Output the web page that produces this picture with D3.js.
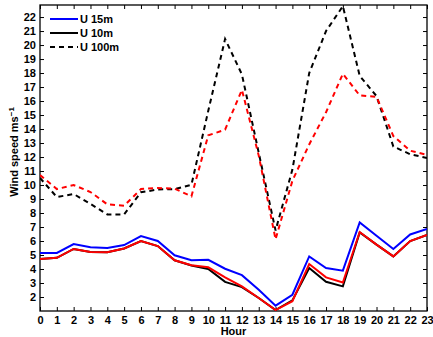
<!DOCTYPE html>
<html>
<head>
<meta charset="utf-8">
<script src="https://cdn.jsdelivr.net/npm/d3@7"></script>
<style>
  body { margin: 0; background: #fff; }
  svg { font-family: "Liberation Sans", Arial, sans-serif; font-weight: bold; }
</style>
</head>
<body>
<script>
// hours and tick labels
var hours = d3.range(0, 24);
var yTicks = d3.range(2, 23);

// wind speed series
var u15 = [5.15, 5.15, 5.78, 5.55, 5.5, 5.71, 6.35, 6.0, 4.98, 4.62, 4.66, 4.02, 3.56, 2.52, 1.38, 2.16, 4.9, 4.07, 3.88, 7.33, 6.38, 5.43, 6.47, 6.86];
var u10 = [4.72, 4.8, 5.43, 5.22, 5.2, 5.47, 6.0, 5.64, 4.62, 4.25, 4.0, 3.08, 2.71, 1.93, 1.07, 1.76, 4.07, 3.09, 2.76, 6.62, 5.74, 4.9, 6.0, 6.43];
var uRed = [4.72, 4.8, 5.43, 5.22, 5.2, 5.47, 6.0, 5.64, 4.62, 4.27, 4.12, 3.4, 2.76, 1.93, 1.07, 1.7, 4.36, 3.4, 3.04, 6.64, 5.74, 4.9, 6.0, 6.43];
var u100 = [10.5, 9.14, 9.36, 8.65, 7.9, 7.9, 9.48, 9.68, 9.71, 10.02, 15.3, 20.43, 17.9, 12.3, 6.75, 11.1, 18.0, 21.0, 22.78, 17.8, 16.35, 12.75, 12.2, 11.93];
var u100Red = [10.71, 9.71, 10.0, 9.5, 8.62, 8.52, 9.71, 9.79, 9.74, 9.19, 13.55, 13.95, 16.8, 12.1, 6.12, 10.3, 12.9, 15.2, 17.95, 16.4, 16.3, 13.5, 12.45, 12.15];

var legendNames = ["U 15m", "U 10m", "U 100m"];

var w = 433, h = 337;
var mLeft = 40, mRight = 427, mTop = 5, mBottom = 311;

var svg = d3.select("body").append("svg")
  .attr("width", w)
  .attr("height", h);

var x = d3.scaleLinear().domain([0, 23]).range([mLeft, mRight]);
var y = d3.scaleLinear().domain([1, 22.86]).range([mBottom, mTop]);

// axes, ticks pointing inwards on all four sides
svg.append("g")
  .attr("transform", "translate(0," + mBottom + ")")
  .call(d3.axisBottom(x).tickValues(hours).tickSize(-4).tickPadding(5).tickFormat(d3.format("d")));
svg.append("g")
  .attr("transform", "translate(0," + mTop + ")")
  .call(d3.axisTop(x).tickValues(hours).tickSize(-4).tickFormat(""));
svg.append("g")
  .attr("transform", "translate(" + mLeft + ",0)")
  .call(d3.axisLeft(y).tickValues(yTicks).tickSize(-4).tickPadding(4).tickFormat(d3.format("d")));
svg.append("g")
  .attr("transform", "translate(" + mRight + ",0)")
  .call(d3.axisRight(y).tickValues(yTicks).tickSize(-4).tickFormat(""));

svg.selectAll(".domain").remove();
svg.selectAll(".tick line").attr("stroke", "#000");
svg.selectAll(".tick text")
  .attr("font-size", 11)
  .attr("font-weight", "bold")
  .attr("font-family", "Liberation Sans, Arial, sans-serif")
  .attr("fill", "#000");

svg.append("rect")
  .attr("x", mLeft).attr("y", mTop)
  .attr("width", mRight - mLeft).attr("height", mBottom - mTop)
  .attr("fill", "none").attr("stroke", "#000").attr("stroke-width", 1.3);

var line = d3.line()
  .x((d, i) => x(hours[i]))
  .y((d) => y(d));

var series = [
  { data: u100, color: "#000", dash: "5,4" },
  { data: u100Red, color: "#ff0000", dash: "5,4" },
  { data: u15, color: "#0000ff", dash: null },
  { data: u10, color: "#000", dash: null },
  { data: uRed, color: "#ff0000", dash: null }
];

svg.append("defs").append("clipPath").attr("id", "clip")
  .append("rect").attr("x", mLeft).attr("y", mTop)
  .attr("width", mRight - mLeft).attr("height", mBottom - mTop);

svg.append("g").attr("clip-path", "url(#clip)")
  .selectAll("path")
  .data(series)
  .enter()
  .append("path")
  .attr("d", (d) => line(d.data))
  .attr("fill", "none")
  .attr("stroke", (d) => d.color)
  .attr("stroke-width", 2)
  .attr("stroke-dasharray", (d) => d.dash);

// legend
var legendStyle = [
  { color: "#0000ff", dash: null },
  { color: "#000", dash: null },
  { color: "#000", dash: "5,4" }
];
var lg = svg.append("g");
legendNames.forEach(function(name, i) {
  var ly = 19 + i * 14;
  lg.append("line")
    .attr("x1", 50).attr("x2", 78)
    .attr("y1", ly).attr("y2", ly)
    .attr("stroke", legendStyle[i].color)
    .attr("stroke-width", 2)
    .attr("stroke-dasharray", legendStyle[i].dash);
  lg.append("text")
    .attr("x", 80).attr("y", ly + 4)
    .attr("font-size", 11)
    .text(name);
});

// axis titles
svg.append("text")
  .attr("x", (mLeft + mRight) / 2)
  .attr("y", 335)
  .attr("text-anchor", "middle")
  .attr("font-size", 11)
  .text("Hour");

var yl = svg.append("text")
  .attr("transform", "translate(18,152) rotate(-90)")
  .attr("text-anchor", "middle")
  .attr("font-size", 11);
yl.append("tspan").text("Wind speed ms");
yl.append("tspan").attr("dy", -4).attr("font-size", 8).text("\u22121");
</script>
</body>
</html>
